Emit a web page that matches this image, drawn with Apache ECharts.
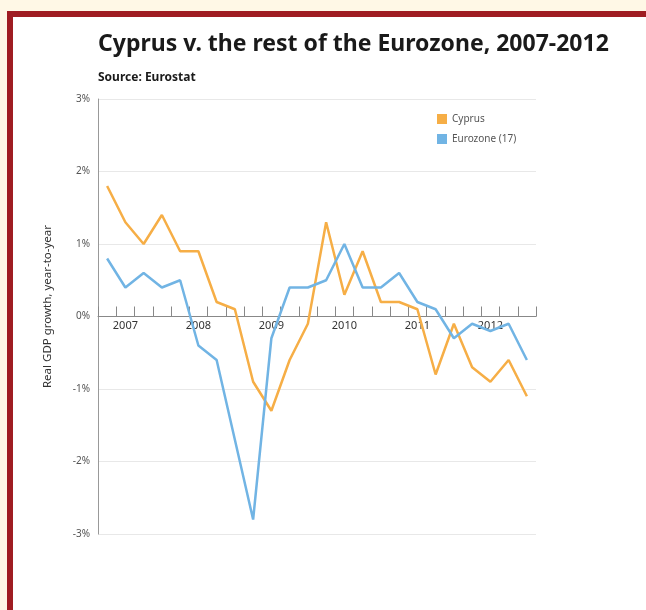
<!DOCTYPE html>
<html>
<head>
<meta charset="utf-8">
<script src="https://cdn.jsdelivr.net/npm/echarts@6/dist/echarts.min.js"></script>
<style>
  html, body { margin: 0; padding: 0; background: #fff8e6; }
  #main { width: 646px; height: 610px; }
</style>
</head>
<body>
<div id="main"></div>
<script>
// quarters 2007-2012
var quarters = [];
var years = ['2007', '2008', '2009', '2010', '2011', '2012'];
for (var y = 0; y < years.length; y++) {
  for (var q = 1; q <= 4; q++) {
    quarters.push(years[y] + ' Q' + q);
  }
}
// Cyprus, real GDP growth %
var cyprus = [1.8, 1.3, 1.0, 1.4, 0.9, 0.9, 0.2, 0.1, -0.9, -1.3, -0.6, -0.1,
              1.3, 0.3, 0.9, 0.2, 0.2, 0.1, -0.8, -0.1, -0.7, -0.9, -0.6, -1.1];
// Eurozone (17)
var eurozone = [0.8, 0.4, 0.6, 0.4, 0.5, -0.4, -0.6, -1.7, -2.8, -0.3, 0.4, 0.4,
                0.5, 1.0, 0.4, 0.4, 0.6, 0.2, 0.1, -0.3, -0.1, -0.2, -0.1, -0.6];

var font = '"Noto Sans", "Open Sans", sans-serif';
var chart = echarts.init(document.getElementById('main'));

var option = {
  backgroundColor: '#fff8e6',
  textStyle: { fontFamily: font },
  graphic: [
    { type: 'rect', z: -10, shape: { x: 7, y: 11, width: 700, height: 700 }, style: { fill: '#9f1c22' } },
    { type: 'rect', z: -9, shape: { x: 13, y: 17, width: 700, height: 700 }, style: { fill: '#ffffff' } }
  ],
  title: [
    {
      text: 'Cyprus v. the rest of the Eurozone, 2007-2012',
      left: 93, top: 28,
      textStyle: { fontFamily: font, fontSize: 23, fontWeight: 'bold', color: '#1a1a1a' }
    },
    {
      text: 'Source: Eurostat',
      left: 93, top: 67,
      textStyle: { fontFamily: font, fontSize: 12, fontWeight: 'bold', color: '#1a1a1a' }
    }
  ],
  legend: {
    orient: 'vertical',
    left: 432, top: 109,
    itemWidth: 10, itemHeight: 10, itemGap: 10,
    icon: 'rect',
    textStyle: { fontFamily: font, fontSize: 10, color: '#555' },
    data: ['Cyprus', 'Eurozone (17)']
  },
  grid: { left: 98, right: 110, top: 99, bottom: 76 },
  xAxis: {
    type: 'category',
    data: quarters,
    boundaryGap: true,
    position: 'bottom',
    offset: -217.5,
    axisLine: { onZero: false, lineStyle: { color: '#888', width: 1 } },
    axisTick: { show: true, inside: true, length: 10, interval: 0, lineStyle: { color: '#888', width: 1 } },
    axisLabel: {
      interval: function (i) { return i % 4 === 1; },
      formatter: function (v) { return v.slice(0, 4); },
      fontFamily: font, fontSize: 11, color: '#333', margin: 4
    }
  },
  yAxis: {
    type: 'value',
    min: -3, max: 3, interval: 1,
    name: 'Real GDP growth, year-to-year',
    nameLocation: 'middle',
    nameGap: 44,
    nameTextStyle: { fontFamily: font, fontSize: 11.5, color: '#333', padding: [0, 0, 0, 20] },
    axisLine: { show: true, lineStyle: { color: '#999' } },
    axisTick: { show: false },
    axisLabel: {
      formatter: '{value}%',
      fontFamily: font, fontSize: 10, color: '#555', margin: 8
    },
    splitLine: { lineStyle: { color: '#e8e8e8' } }
  },
  series: [
    {
      name: 'Cyprus', type: 'line', data: cyprus,
      symbol: 'none', color: '#f6ae46',
      lineStyle: { width: 2.5, color: '#f6ae46' }
    },
    {
      name: 'Eurozone (17)', type: 'line', data: eurozone,
      symbol: 'none', color: '#71b4e4',
      lineStyle: { width: 2.5, color: '#71b4e4' }
    }
  ],
  animation: false
};
chart.setOption(option);
</script>
</body>
</html>
